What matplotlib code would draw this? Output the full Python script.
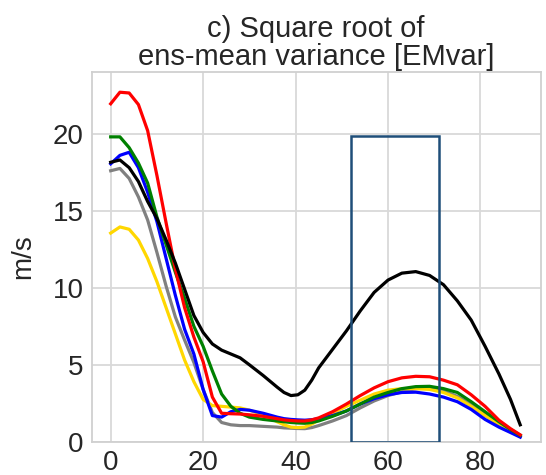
import numpy as np
import matplotlib
matplotlib.use("Agg")
import matplotlib.pyplot as plt
from matplotlib.patches import Rectangle

plt.rcParams.update({
    "font.family": ["Liberation Sans", "DejaVu Sans"],
    "font.size": 20,
})

lat = [0, 2, 4, 6, 8, 10, 12, 14, 16, 18, 20, 22, 24, 26, 28, 30, 33, 36,
       37.5, 39, 40.5, 42, 43.5, 45, 48, 51, 54, 57, 60, 63, 66, 69, 72, 75,
       78, 81, 84, 86.5, 88.6]

red = [21.95, 22.7, 22.65, 21.9, 20.2, 17.3, 14.2, 11.2, 8.7, 6.8, 5.2, 2.9,
       1.85, 1.82, 1.8, 1.75, 1.65, 1.5, 1.42, 1.38, 1.35, 1.35, 1.42, 1.55,
       1.95, 2.45, 3.0, 3.5, 3.9, 4.15, 4.25, 4.22, 4.0, 3.7, 3.05, 2.3, 1.4,
       0.85, 0.45]
green = [19.8, 19.8, 19.1, 18.1, 16.8, 14.6, 12.8, 11.0, 9.3, 7.5, 6.2, 4.6,
         3.1, 2.3, 1.85, 1.6, 1.45, 1.35, 1.3, 1.25, 1.22, 1.2, 1.25, 1.35,
         1.65, 2.0, 2.45, 2.9, 3.2, 3.45, 3.58, 3.6, 3.45, 3.2, 2.6, 1.95, 1.3,
         0.8, 0.42]
blue = [18.05, 18.6, 18.8, 17.8, 16.2, 14.3, 11.9, 9.5, 7.3, 5.7, 3.4, 1.7,
        1.6, 1.95, 2.1, 2.05, 1.85, 1.6, 1.5, 1.45, 1.42, 1.4, 1.43, 1.5,
        1.7, 2.0, 2.45, 2.8, 3.05, 3.2, 3.22, 3.1, 2.9, 2.6, 2.1, 1.45, 0.95,
        0.6, 0.3]
black = [18.15, 18.3, 17.8, 16.9, 15.6, 14.5, 13.1, 11.6, 9.9, 8.2, 7.1, 6.35,
         5.95, 5.7, 5.45, 5.0, 4.3, 3.55, 3.2, 3.0, 3.05, 3.35, 4.0, 4.8,
         6.0, 7.2, 8.5, 9.7, 10.5, 10.95, 11.05, 10.8, 10.2, 9.15, 7.9, 6.2,
         4.4, 2.75, 1.1]
gray = [17.6, 17.75, 17.1, 15.9, 14.4, 12.3, 10.1, 8.1, 6.6, 5.15, 3.4, 1.9,
        1.25, 1.1, 1.05, 1.05, 1.0, 0.95, 0.9, 0.88, 0.86, 0.85, 0.92, 1.05,
        1.35, 1.7, 2.2, 2.65, 3.0, 3.25, 3.45, 3.48, 3.3, 2.95, 2.4, 1.75,
        1.15, 0.7, 0.35]
yellow = [13.55, 13.95, 13.8, 13.1, 11.9, 10.4, 8.7, 7.0, 5.3, 3.9, 2.75,
          2.35, 2.3, 2.25, 2.2, 2.05, 1.75, 1.3, 1.1, 0.95, 0.92, 0.95, 1.15,
          1.4, 1.85, 2.3, 2.7, 3.1, 3.35, 3.45, 3.45, 3.4, 3.2, 2.85, 2.3, 1.7,
          1.1, 0.65, 0.35]

series = [(gray, "gray"), (yellow, "gold"), (blue, "blue"),
          (green, "green"), (red, "red"), (black, "black")]

# box marking the region of interest
box_x = (52, 71)
box_y = (0, 19.85)

fig = plt.figure(figsize=(5.46, 4.75), dpi=100)
ax = fig.add_axes([0.168, 0.07, 0.822, 0.778])

for vals, c in series:
    ax.plot(lat, vals, color=c, linewidth=2.3, solid_joinstyle="round")

ax.add_patch(Rectangle((box_x[0], box_y[0]), box_x[1] - box_x[0],
                       box_y[1] - box_y[0], fill=False,
                       edgecolor="#1f4e79", linewidth=1.8, zorder=5))

ax.set_xlim(-4.1, 93)
ax.set_ylim(0, 24)
ax.set_xticks([0, 20, 40, 60, 80])
ax.set_yticks([0, 5, 10, 15, 20])
ax.grid(True, color="#d9d9d9", linewidth=1.3)
ax.set_axisbelow(True)
for s in ax.spines.values():
    s.set_color("#d0d0d0")
    s.set_linewidth(1.3)
ax.tick_params(length=0, labelsize=20, colors="#262626", pad=6)
ax.set_ylabel("m/s", fontsize=20, color="#262626", labelpad=12)
ax.set_title("c) Square root of\nens-mean variance [EMvar]", fontsize=21,
             color="#262626", pad=5, linespacing=1.0)

fig.savefig("out.png", dpi=100)
